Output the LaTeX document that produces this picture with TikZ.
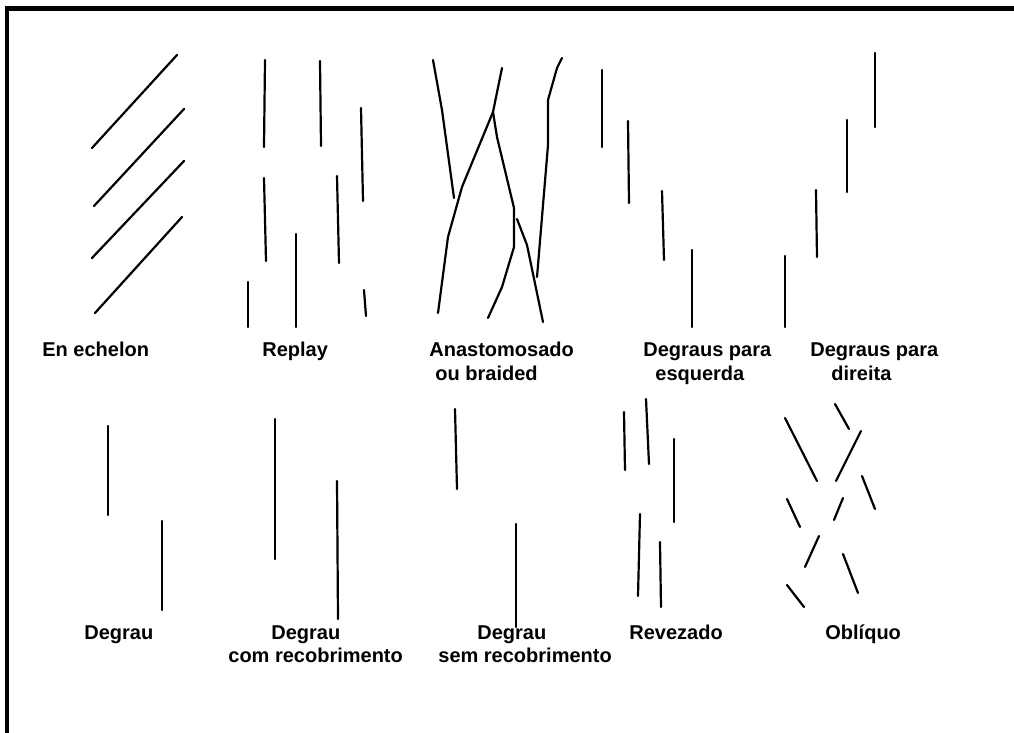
\documentclass[tikz,border=0pt]{standalone}
\usepackage{fontspec}
\setmainfont{Liberation Sans}
\usepackage{tikz}
\usetikzlibrary{positioning}
\definecolor{traco}{RGB}{0,0,0}
\tikzset{
  falha/.style={draw=traco,line width=1.1pt,line cap=round,line join=round},
  moldura/.style={draw=traco,line width=2.2pt},
  rotulo/.style={anchor=base west,inner sep=0pt,
    font=\fontsize{10}{12}\selectfont\bfseries}
}

\begin{document}
\begin{tikzpicture}[x=0.5pt,y=-0.5pt]
\useasboundingbox (0,0) rectangle (1014,733);
\draw[moldura] (7,733) -- (7,8.5) -- (1014,8.5);

% en echelon
\foreach \xa/\ya/\xb/\yb in {92/148/177/55, 94/206/184/109, 92/258/184/161, 95/313/182/217}
  \draw[falha] (\xa,\ya) -- (\xb,\yb);

% replay
\foreach \xa/\ya/\xb/\yb in {265/60/264/147, 320/61/321/146, 361/108/363/201,
  264/178/266/261, 337/176/339/263, 296/234/296/327, 248/282/248/327, 364/290/366/316}
  \draw[falha] (\xa,\ya) -- (\xb,\yb);

% anastomosado
\draw[falha] (433,60) -- (442,110) -- (454,198);
\draw[falha] (502,68) -- (493,112) -- (462,187) -- (448,237) -- (438,313);
\draw[falha] (493,112) -- (497,137) -- (514,208) -- (514,247) -- (502,287) -- (488,318);
\draw[falha] (562,58) -- (557,68) -- (548,100) -- (548,145) -- (537,277);
\draw[falha] (517,219) -- (527,245) -- (543,322);

% degraus
\foreach \xa/\ya/\xb/\yb in {602/70/602/147, 628/121/629/203, 662/191/664/260, 692/250/692/327,
  785/256/785/327, 816/190/817/257, 847/120/847/192, 875/53/875/127}
  \draw[falha] (\xa,\ya) -- (\xb,\yb);

% degrau
\foreach \xa/\ya/\xb/\yb in {108/426/108/515, 162/521/162/610,
  275/419/275/559, 337/481/338/619, 455/409/457/489, 516/524/516/627}
  \draw[falha] (\xa,\ya) -- (\xb,\yb);

% revezado
\foreach \xa/\ya/\xb/\yb in {624/412/625/470, 646/399/649/464, 674/439/674/522,
  640/514/638/596, 660/542/661/607}
  \draw[falha] (\xa,\ya) -- (\xb,\yb);

% obliquo
\foreach \xa/\ya/\xb/\yb in {785/418/817/481, 835/404/849/429, 861/431/836/481,
  862/476/875/509, 787/499/800/527, 843/498/834/520, 819/536/805/567,
  843/554/858/593, 787/585/804/607}
  \draw[falha] (\xa,\ya) -- (\xb,\yb);

\node[rotulo] (rEchelon) at (42,357) {En echelon};
\node[rotulo] (rReplay) at (262,357) {Replay};
\node[rotulo] (rAnast) at (429,357) {Anastomosado};
\node[rotulo] (rAnastB) at (435,380) {ou braided};
\node[rotulo] (rEsq) at (643,357) {Degraus para};
\node[rotulo] (rEsqB) at (655,380) {esquerda};
\node[rotulo] (rDir) at (810,357) {Degraus para};
\node[rotulo] (rDirB) at (831,380) {direita};
\node[rotulo] (rDegrau) at (84,639) {Degrau};
\node[rotulo] (rCom) at (271,639) {Degrau};
\node[rotulo] (rComB) at (228,662) {com recobrimento};
\node[rotulo] (rSem) at (477,639) {Degrau};
\node[rotulo] (rSemB) at (438,662) {sem recobrimento};
\node[rotulo] (rRevez) at (629,639) {Revezado};
\node[rotulo] (rObliq) at (825,639) {Oblíquo};
\end{tikzpicture}
\end{document}
